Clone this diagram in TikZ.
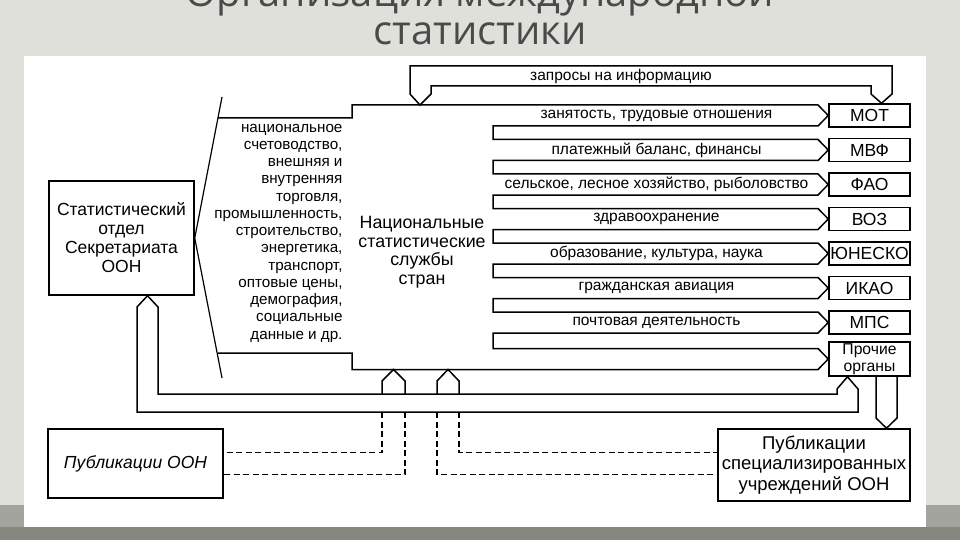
\documentclass[tikz,border=0pt]{standalone}
\usepackage{fontspec}
\setmainfont{Liberation Sans}
\newfontfamily\titlefont{Open Sans}
\usetikzlibrary{positioning, calc}

\definecolor{slidebg}{HTML}{E0E0DB}
\definecolor{slidebar}{HTML}{A4A49F}
\definecolor{slidebase}{HTML}{878782}
\definecolor{titletext}{HTML}{4A4A4A}

\begin{document}
\begin{tikzpicture}
    [
        x=1pt, y=-1pt,
        on grid,
        node distance=34.5pt and 34.5pt,
        box/.style={draw, rectangle, line width=1.5pt, align=center, inner sep=1pt},
        orgbox/.style={box, minimum width=81pt, minimum height=23pt, font=\fontsize{17.5}{18}\selectfont},
        pubbox/.style={box, font=\fontsize{18.5}{20.5}\selectfont},
        flowlabel/.style={font=\fontsize{15.5}{16}\selectfont},
        outline/.style={line width=1.5pt, line join=miter},
        dashline/.style={line width=1.4pt, dash pattern=on 6pt off 3.5pt}
    ]
        % =========================================================================
        % SLIDE
        % =========================================================================
        \useasboundingbox (0,0) rectangle (960,540);
        \fill [slidebg] (0,0) rectangle (960,540);
        \fill [slidebar] (0,505) rectangle (960,540);
        \fill [slidebase] (0,527) rectangle (960,540);
        \fill [white] (24,56) rectangle (926,527);
        \node [anchor=base, text=titletext, font=\titlefont\fontsize{40}{40}\selectfont] (title1) at (480,7) {Организация международной};
        \node [anchor=base, text=titletext, font=\titlefont\fontsize{40}{40}\selectfont] (title2) at (480,45) {статистики};

        % =========================================================================
        % NODES
        % =========================================================================
        % --- Left column ---
        \node [box, minimum width=145pt, minimum height=114pt, font=\fontsize{17.5}{19}\selectfont] (unsd) at (121.5,238) {Статистический\\отдел\\Секретариата\\ООН};
        \node [pubbox, minimum width=175pt, minimum height=69pt, font=\itshape\fontsize{17.5}{20}\selectfont] (pubun) at (135.5,463.5) {Публикации ООН};
        % --- Centre ---
        \node [align=right, anchor=east, font=\fontsize{15.2}{17.25}\selectfont] (topics) at (346,233) {национальное\\счетоводство,\\внешняя и\\внутренняя\\торговля,\\промышленность,\\строительство,\\энергетика,\\транспорт,\\оптовые цены,\\демография,\\социальные\\данные и др.};
        \node [align=center, font=\fontsize{17.8}{18.5}\selectfont] (nss) at (422,252) {Национальные\\статистические\\службы\\стран};
        % --- Right column ---
        \node [orgbox] (mot) at (869.5,115.5) {МОТ};
        \node [orgbox, below=of mot] (mvf) {МВФ};
        \node [orgbox, below=of mvf] (fao) {ФАО};
        \node [orgbox, below=of fao] (voz) {ВОЗ};
        \node [orgbox, below=of voz] (unesco) {ЮНЕСКО};
        \node [orgbox, below=of unesco] (ikao) {ИКАО};
        \node [orgbox, below=of ikao] (mps) {МПС};
        \node [orgbox, below=36.5pt of mps, minimum height=34pt, font=\fontsize{15.7}{16.5}\selectfont] (other) {Прочие\\органы};
        \node [pubbox, minimum width=192pt, minimum height=72pt] (pubspec) at (814,465) {Публикации\\специализированных\\учреждений ООН};
        % --- Flow labels ---
        \node [flowlabel] (lblreq) at (621,76) {запросы на информацию};
        \node [flowlabel, left=213pt of mot] (lblmot) {занятость, трудовые отношения};
        \node [flowlabel, left=213pt of mvf] (lblmvf) {платежный баланс, финансы};
        \node [flowlabel, left=213pt of fao] (lblfao) {сельское, лесное хозяйство, рыболовство};
        \node [flowlabel, left=213pt of voz] (lblvoz) {здравоохранение};
        \node [flowlabel, left=213pt of unesco] (lblunesco) {образование, культура, наука};
        \node [flowlabel, left=213pt of ikao] (lblikao) {гражданская авиация};
        \node [flowlabel, left=213pt of mps] (lblmps) {почтовая деятельность};

        % =========================================================================
        % PATHS
        % =========================================================================
        % --- National services with the outgoing arrows ---
        \draw [outline] (218,118) -- (352,118) -- (352,105)
            -- (818,105) -- (mot.west) -- (818,126) -- (493,126)
            -- (493,139.5) -- (818,139.5) -- (mvf.west) -- (818,160.5) -- (493,160.5)
            -- (493,174) -- (818,174) -- (fao.west) -- (818,195) -- (493,195)
            -- (493,208.5) -- (818,208.5) -- (voz.west) -- (818,229.5) -- (493,229.5)
            -- (493,243) -- (818,243) -- (unesco.west) -- (818,264) -- (493,264)
            -- (493,277.5) -- (818,277.5) -- (ikao.west) -- (818,298.5) -- (493,298.5)
            -- (493,312) -- (818,312) -- (mps.west) -- (818,333) -- (493,333)
            -- (493,348.5) -- (818,348.5) -- (other.west) -- (818,369.5) -- (352,369.5)
            -- (352,353) -- (218,353);
        % --- Fan from the statistical division ---
        \draw [outline, line width=1.2pt] (unsd.east) -- (222,97);
        \draw [outline, line width=1.2pt] (unsd.east) -- (222,378);
        % --- Requests ---
        \draw [outline] (420,105) -- (410,94) -- (410,66) -- (892,66) -- (892,94)
            -- ($(mot.north)+(12,0)$) -- (871,94) -- (871,86) -- (431,86) -- (431,94) -- cycle;
        % --- Return loop ---
        \draw [outline] ($(unsd.south)+(26,0)$) -- (158,307) -- (158,394) -- (837,394) -- (837,389)
            -- ($(other.south)+(-22,0)$) -- (858,389) -- (858,412) -- (137,412) -- (137,307) -- cycle;
        \draw [outline] (382,394) -- (382,381) -- (393.5,369.5) -- (405,381) -- (405,394);
        \draw [outline] (437,394) -- (437,381) -- (448,369.5) -- (459,381) -- (459,394);
        \draw [outline] (876,376) -- (876,418) -- ($(pubspec.north)+(72.5,0)$) -- (897,418) -- (897,376);
        % --- Publications ---
        \draw [dashline] (382,412) |- ($(pubun.east)+(0,-11)$);
        \draw [dashline] (405,412) |- ($(pubun.east)+(0,11)$);
        \draw [dashline] (437,412) |- ($(pubspec.west)+(0,9.5)$);
        \draw [dashline] (459,412) |- ($(pubspec.west)+(0,-12.5)$);

    \end{tikzpicture}
\end{document}
